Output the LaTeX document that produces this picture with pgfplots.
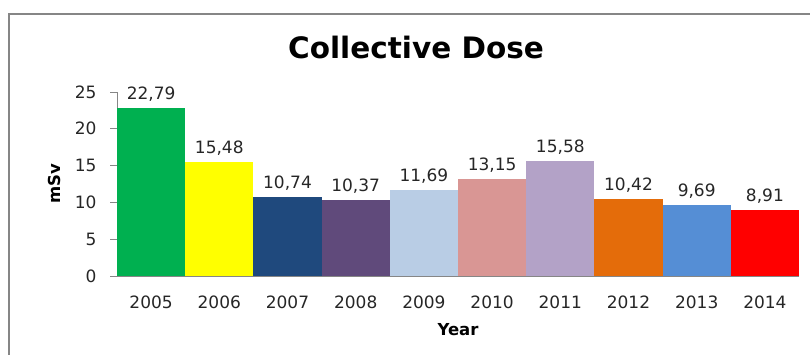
\documentclass[border=0pt]{standalone}
\usepackage{pgfplots}
\pgfplotsset{compat=1.18}
\usepackage{fontspec}
\setmainfont{DejaVu Sans}
\definecolor{c05}{HTML}{00B050}
\definecolor{c06}{HTML}{FFFF00}
\definecolor{c07}{HTML}{1F497D}
\definecolor{c08}{HTML}{604A7B}
\definecolor{c09}{HTML}{B9CDE5}
\definecolor{c10}{HTML}{D99694}
\definecolor{c11}{HTML}{B3A2C7}
\definecolor{c12}{HTML}{E46C0A}
\definecolor{c13}{HTML}{558ED5}
\definecolor{c14}{HTML}{FF0000}
\definecolor{axgray}{HTML}{868686}
\definecolor{txt}{HTML}{262626}
\begin{document}
\begin{tikzpicture}[x=1pt,y=1pt]
\useasboundingbox (0,0) rectangle (810,354);
\draw[axgray, line width=2pt] (9,-20) -- (9,340) -- (830,340);
\begin{axis}[
  at={(117pt,78pt)}, anchor=south west,
  width=682pt, height=184pt, scale only axis,
  xmin=-0.5, xmax=9.5, ymin=0, ymax=25,
  ybar, bar width=1, bar shift=0pt,
  axis x line*=bottom, axis y line*=left,
  axis line style={axgray, line width=1pt, -},
  xtick={0,...,9},
  xticklabels={2005,2006,2007,2008,2009,2010,2011,2012,2013,2014},
  x tick style={draw=none},
  ytick={0,5,...,25},
  y tick style={axgray, line width=1pt},
  major tick length=7pt, tick align=outside,
  tick label style={font=\fontsize{17}{19}\selectfont, text=txt},
  /pgf/number format/assume math mode=true,
  /pgf/number format/use comma,
  xticklabel style={yshift=-9pt},
  yticklabel style={xshift=-10pt},
  ylabel={\textbf{mSv}}, xlabel={\textbf{Year}},
  label style={font=\fontsize{16.5}{19}\selectfont\bfseries, text=black},
  ylabel style={at={(axis description cs:-0.092,0.5)}, anchor=center, rotate=0},
  xlabel style={at={(axis description cs:0.5,0)}, yshift=-44pt, anchor=north},
  nodes near coords,
  nodes near coords style={font=\fontsize{17}{19}\selectfont, text=txt, yshift=3pt,
    /pgf/number format/fixed, /pgf/number format/fixed zerofill,
    /pgf/number format/precision=2},
  clip=false,
]
\addplot[fill=c05, draw=none] coordinates {(0,22.79)};
\addplot[fill=c06, draw=none] coordinates {(1,15.48)};
\addplot[fill=c07, draw=none] coordinates {(2,10.74)};
\addplot[fill=c08, draw=none] coordinates {(3,10.37)};
\addplot[fill=c09, draw=none] coordinates {(4,11.69)};
\addplot[fill=c10, draw=none] coordinates {(5,13.15)};
\addplot[fill=c11, draw=none] coordinates {(6,15.58)};
\addplot[fill=c12, draw=none] coordinates {(7,10.42)};
\addplot[fill=c13, draw=none] coordinates {(8,9.69)};
\addplot[fill=c14, draw=none] coordinates {(9,8.91)};
\end{axis}
\node[font=\fontsize{29.5}{33}\selectfont\bfseries, text=black] at (416,306) {Collective Dose};
\end{tikzpicture}
\end{document}
